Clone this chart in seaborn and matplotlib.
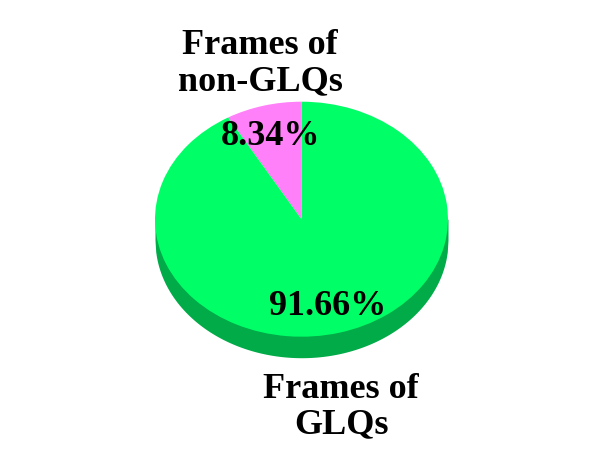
import numpy as np
import seaborn as sns
import matplotlib
matplotlib.use('Agg')
import matplotlib.pyplot as plt

# data
labels = ['Frames of\nnon-GLQs', 'Frames of\nGLQs']
shares = [8.34, 91.66]
pct_text = ['8.34%', '91.66%']
colors = ['#ff80f8', '#00ff66']
side_color = '#00ab48'

sns.set_style('white')
plt.rcParams['font.family'] = ['Liberation Serif', 'DejaVu Serif']

W, H = 600, 463
fig = plt.figure(figsize=(W / 100, H / 100), dpi=100)
ax = fig.add_axes([0, 0, 1, 1])

# ellipse geometry in pixels (pie drawn as unit circle, stretched by limits)
cx, cy, rx, ry = 301.5, 219.2, 146.5, 117.5
depth = 21 / ry

# side of the "3d" pie
xs = np.linspace(-1, 1, 400)
low = -np.sqrt(1 - xs ** 2)
ax.fill_between(xs, low - depth, 0, color=side_color, lw=0, zorder=0)

ax.pie(shares, colors=colors, startangle=90, counterclock=True, radius=1,
       wedgeprops=dict(linewidth=0), normalize=True)
ax.set_aspect('auto')
ax.set_xlim(-cx / rx, (W - cx) / rx)
ax.set_ylim((cy - H) / ry, cy / ry)
ax.axis('off')

font = dict(fontsize=26, fontweight='bold', color='black', ha='center')
# category labels
fig.text(260 / W, 1 - 90 / H, labels[0], va='baseline', linespacing=1.1, **font)
fig.text(341 / W, 1 - 433 / H, labels[1], va='baseline', linespacing=1.1, **font)
# percentages
fig.text(271 / W, 1 - 145 / H, pct_text[0], va='baseline', **font)
fig.text(328 / W, 1 - 315 / H, pct_text[1], va='baseline', **font)

fig.savefig('out.png', dpi=100)
